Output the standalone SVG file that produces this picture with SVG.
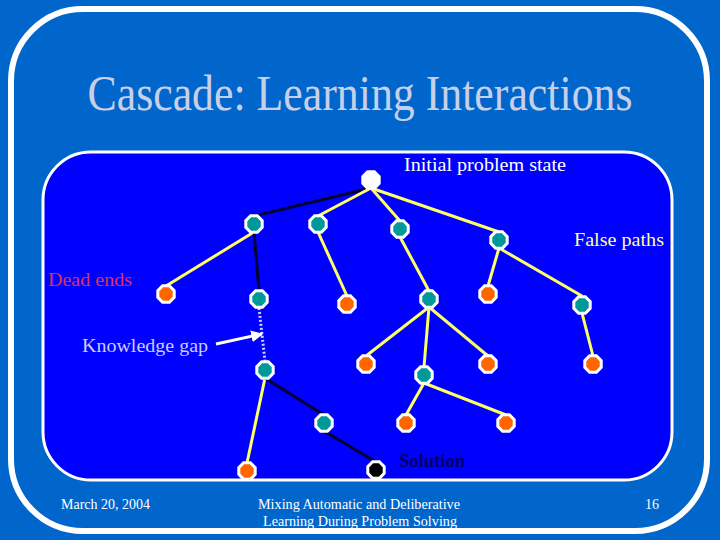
<svg xmlns="http://www.w3.org/2000/svg" width="720" height="540" viewBox="0 0 720 540">
<style>
.serif{font-family:"Liberation Serif","Times New Roman",serif}
.y{stroke:#FFFF66;stroke-width:3;fill:none}
.k{stroke:#000033;stroke-width:3;fill:none}
.n{stroke:#FFFFFF;stroke-width:3}
.teal{fill:#009999}
.org{fill:#FF6600}
.foot{fill:#FFFFFF;font-size:14px}
</style>
<defs>
<polygon id="oct" points="3.4,-8.2 8.2,-3.4 8.2,3.4 3.4,8.2 -3.4,8.2 -8.2,3.4 -8.2,-3.4 -3.4,-8.2"/>
<marker id="ah" viewBox="0 0 10 10" refX="9" refY="5" markerWidth="4" markerHeight="4" orient="auto">
<path d="M0,0 L10,5 L0,10 z" fill="#FFFFFF"/>
</marker>
</defs>
<rect width="720" height="540" fill="#0066CC"/>
<rect x="11" y="9" width="696" height="522" rx="72" ry="72" fill="#0066CC" stroke="#FFFFFF" stroke-width="6"/>
<text class="serif" x="360" y="110" font-size="50" fill="#C8D0E8" text-anchor="middle" textLength="545" lengthAdjust="spacingAndGlyphs">Cascade: Learning Interactions</text>
<rect x="43" y="152" width="629" height="328" rx="48" ry="48" fill="#0000FF" stroke="#FFFFFF" stroke-width="3"/>

<g id="connectors">
<line class="k" x1="371" y1="188" x2="254" y2="216"/>
<line class="y" x1="371" y1="188" x2="318" y2="216"/>
<line class="y" x1="371" y1="188" x2="400" y2="221"/>
<line class="y" x1="371" y1="188" x2="499" y2="232"/>
<line class="y" x1="254" y1="232" x2="166" y2="286"/>
<line class="k" x1="254" y1="232" x2="259" y2="291"/>
<line class="y" x1="318" y1="232" x2="347" y2="296"/>
<line class="y" x1="400" y1="237" x2="429" y2="291"/>
<line class="y" x1="499" y1="248" x2="488" y2="286"/>
<line class="y" x1="499" y1="248" x2="582" y2="296"/>
<line class="y" x1="582" y1="313" x2="593" y2="356"/>
<line class="y" x1="429" y1="307" x2="366" y2="356"/>
<line class="y" x1="429" y1="307" x2="424" y2="367"/>
<line class="y" x1="429" y1="307" x2="488" y2="356"/>
<line x1="259" y1="308" x2="265" y2="361" stroke="#CCCCFF" stroke-width="3" stroke-dasharray="2,2"/>
<line x1="216" y1="344" x2="262" y2="334" stroke="#FFFFFF" stroke-width="3" marker-end="url(#ah)"/>
<line class="y" x1="265" y1="378" x2="247" y2="463"/>
<line class="k" x1="265" y1="378" x2="324" y2="415"/>
<line class="k" x1="324" y1="431" x2="376" y2="462"/>
<line class="y" x1="424" y1="383" x2="406" y2="415"/>
<line class="y" x1="424" y1="383" x2="506" y2="415"/>
</g>

<g id="root"><use href="#oct" x="371" y="180" class="n" fill="#FFFFFF"/></g>
<g id="n1"><use href="#oct" x="254" y="224" class="n teal"/></g>
<g id="n2"><use href="#oct" x="318" y="224" class="n teal"/></g>
<g id="n3"><use href="#oct" x="400" y="229" class="n teal"/></g>
<g id="n4"><use href="#oct" x="499" y="240" class="n teal"/></g>
<g id="d1"><use href="#oct" x="166" y="294" class="n org"/></g>
<g id="n5"><use href="#oct" x="259" y="299" class="n teal"/></g>
<g id="d2"><use href="#oct" x="347" y="304" class="n org"/></g>
<g id="n6"><use href="#oct" x="429" y="299" class="n teal"/></g>
<g id="d3"><use href="#oct" x="488" y="294" class="n org"/></g>
<g id="n7"><use href="#oct" x="582" y="305" class="n teal"/></g>
<g id="d4"><use href="#oct" x="593" y="364" class="n org"/></g>
<g id="d5"><use href="#oct" x="366" y="364" class="n org"/></g>
<g id="n8"><use href="#oct" x="424" y="375" class="n teal"/></g>
<g id="d6"><use href="#oct" x="488" y="364" class="n org"/></g>
<g id="n9"><use href="#oct" x="265" y="370" class="n teal"/></g>
<g id="d7"><use href="#oct" x="247" y="471" class="n org"/></g>
<g id="n10"><use href="#oct" x="324" y="423" class="n teal"/></g>
<g id="sol"><use href="#oct" x="376" y="470" class="n" fill="#000000"/></g>
<g id="d8"><use href="#oct" x="406" y="423" class="n org"/></g>
<g id="d9"><use href="#oct" x="506" y="423" class="n org"/></g>

<g id="labels" class="serif">
<text x="404" y="171" font-size="18" fill="#FFFFFF" textLength="162" lengthAdjust="spacingAndGlyphs">Initial problem state</text>
<text x="574" y="246" font-size="18" fill="#FFFF99" textLength="90" lengthAdjust="spacingAndGlyphs">False paths</text>
<text x="48" y="286" font-size="18" fill="#DD3355" textLength="84" lengthAdjust="spacingAndGlyphs">Dead ends</text>
<text x="82" y="352" font-size="18" fill="#CCCCFF" textLength="126" lengthAdjust="spacingAndGlyphs">Knowledge gap</text>
<text x="399" y="467" font-size="18" font-weight="bold" fill="#000066" textLength="66" lengthAdjust="spacingAndGlyphs">Solution</text>
</g>
<g id="footer" class="serif">
<text class="foot" x="61" y="509" textLength="89" lengthAdjust="spacingAndGlyphs">March 20, 2004</text>
<text class="foot" x="359" y="509" text-anchor="middle" textLength="202" lengthAdjust="spacingAndGlyphs">Mixing Automatic and Deliberative</text>
<text class="foot" x="360" y="526" text-anchor="middle" textLength="194" lengthAdjust="spacingAndGlyphs">Learning During Problem Solving</text>
<text class="foot" x="645" y="509" textLength="14" lengthAdjust="spacingAndGlyphs">16</text>
</g>
</svg>
